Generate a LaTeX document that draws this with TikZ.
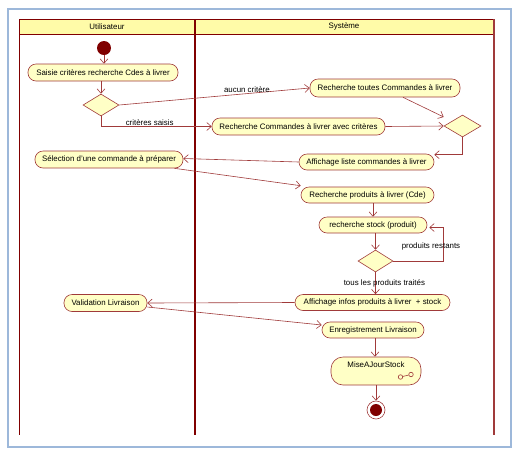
\documentclass[tikz,border=0pt]{standalone}
\usepackage{fontspec}
\setmainfont{Liberation Sans}
\usetikzlibrary{arrows.meta,shapes.geometric,calc}
\definecolor{lane}{HTML}{800000}
\definecolor{edge}{HTML}{A03A3A}
\definecolor{nodefill}{HTML}{FFFFC6}
\definecolor{headfill}{HTML}{FFFBA8}
\definecolor{frameblue}{HTML}{9DB8DA}
\tikzset{
  act/.style={draw=edge, fill=nodefill, rounded corners=8pt, line width=0.6pt, inner sep=0pt, font=\fontsize{7.9}{9}\selectfont},
  dec/.style={draw=edge, fill=nodefill, diamond, inner sep=0pt, line width=0.6pt, minimum width=36pt, minimum height=22pt},
  arr/.style={draw=edge, line width=0.6pt, -{Straight Barb[length=4.5pt,width=8pt]}},
  lbl/.style={font=\fontsize{7.9}{9}\selectfont, inner sep=1pt},
}
\begin{document}
\begin{tikzpicture}[x=1pt,y=-1pt]
\useasboundingbox (0,0) rectangle (520,459);
% outer frame
\draw[frameblue, line width=1.3pt] (8,9) rectangle (511,447);
% swimlanes
\fill[headfill] (19.7,19) rectangle (494,34);
\draw[lane, line width=0.8pt] (19.7,19) -- (494,19);
\draw[lane, line width=0.8pt] (19.7,34) -- (494,34);
\draw[lane, line width=1.1pt] (19.7,19) -- (19.7,435);
\draw[lane, line width=2.4pt] (195,19) -- (195,435);
\draw[edge, line width=1.4pt] (494,19) -- (494,435);
\node[lbl] (hU) at (107,26.5) {Utilisateur};
\node[lbl] (hS) at (344,26.5) {Système};

% nodes
\node[circle, fill=lane, minimum size=14pt, inner sep=0pt] (init) at (104,48) {};
\node[act, minimum width=150pt, minimum height=17pt] (saisie) at (103,72.5) {Saisie critères recherche Cdes à livrer};
\node[dec] (d1) at (101,105) {};
\node[act, minimum width=150pt, minimum height=18pt] (toutes) at (385,88) {Recherche toutes Commandes à livrer};
\node[act, minimum width=173pt, minimum height=17pt] (avec) at (298.5,126.5) {Recherche Commandes à livrer avec critères};
\node[dec, minimum width=37pt] (d2) at (462.5,126) {};
\node[act, minimum width=135pt, minimum height=16pt] (liste) at (366.5,162) {Affichage liste commandes à livrer};
\node[act, minimum width=148pt, minimum height=17pt] (select) at (109,159.5) {Sélection d'une commande à préparer};
\node[act, minimum width=133pt, minimum height=16pt] (prodcde) at (367.5,195) {Recherche produits à livrer (Cde)};
\node[act, minimum width=108pt, minimum height=16pt] (stock) at (373,225) {recherche stock (produit)};
\node[dec, minimum width=35pt] (d3) at (375.5,261) {};
\node[act, minimum width=155pt, minimum height=16pt] (infos) at (372.5,302.5) {Affichage infos produits à livrer\ \ + stock};
\node[act, minimum width=83pt, minimum height=17pt] (valid) at (105.5,303) {Validation Livraison};
\node[act, minimum width=102pt, minimum height=16pt] (enreg) at (373,330) {Enregistrement Livraison};
\node[act, minimum width=90pt, minimum height=28pt, rounded corners=12pt] (mise) at (376,371) {};
\node[lbl] (miset) at (376,365) {MiseAJourStock};
\node[circle, draw=edge, fill=white, line width=0.6pt, minimum size=18pt, inner sep=0pt] (final) at (376,410) {};
\node[circle, fill=lane, minimum size=12pt, inner sep=0pt] (finalin) at (final.center) {};
% rake icon
\node[circle, draw=edge, line width=0.6pt, minimum size=4.5pt, inner sep=0pt] (rk1) at (400.5,377) {};
\node[circle, draw=edge, line width=0.6pt, minimum size=4.5pt, inner sep=0pt] (rk2) at (411,374.5) {};
\draw[edge, line width=0.6pt] (rk1) -- (rk2);

% edges
\draw[arr] (init) -- (saisie.north -| init);
\draw[arr] (saisie.south -| d1.north) -- (d1.north);
\draw[arr] (d1.east) -- node[lbl, above, pos=0.67] {aucun critère} (toutes.west);
\draw[arr] (d1.south) |- node[lbl, above, pos=0.72] {critères saisis} (avec.west);
\draw[arr] ([xshift=18pt]toutes.south) -- ([yshift=9pt]d2.west);
\draw[arr] (avec.east) -- (d2.west);
\draw[arr] (d2.south) |- ([yshift=-1pt]liste.north east);
\draw[arr] (liste.west) -- ([yshift=1pt]select.east);
\draw[arr] ([xshift=-9pt]select.south east) -- ([yshift=1pt]prodcde.north west);
\draw[arr] (prodcde.south -| stock.north) -- (stock.north);
\draw[arr] (stock.south -| d3.north) -- (d3.north);
\draw[arr] (d3.east) -- ++(50,0) coordinate (loop) |- ([yshift=-2.5pt,xshift=2pt]stock.east);
\node[lbl] (lres) at (431,246.5) {produits restants};
\draw[arr] (d3.south) -- (infos.north -| d3.south) node[lbl, pos=0.5, right=-33pt] {tous les produits traités};
\draw[arr] (infos.west) -- (valid.east);
\draw[arr] ([yshift=-4pt]valid.east) -- ([yshift=5pt]enreg.west);
\draw[arr] (enreg.south -| 375,0) -- (mise.north -| 375,0);
\draw[arr] (mise.south) -- (final.north);
\end{tikzpicture}
\end{document}
